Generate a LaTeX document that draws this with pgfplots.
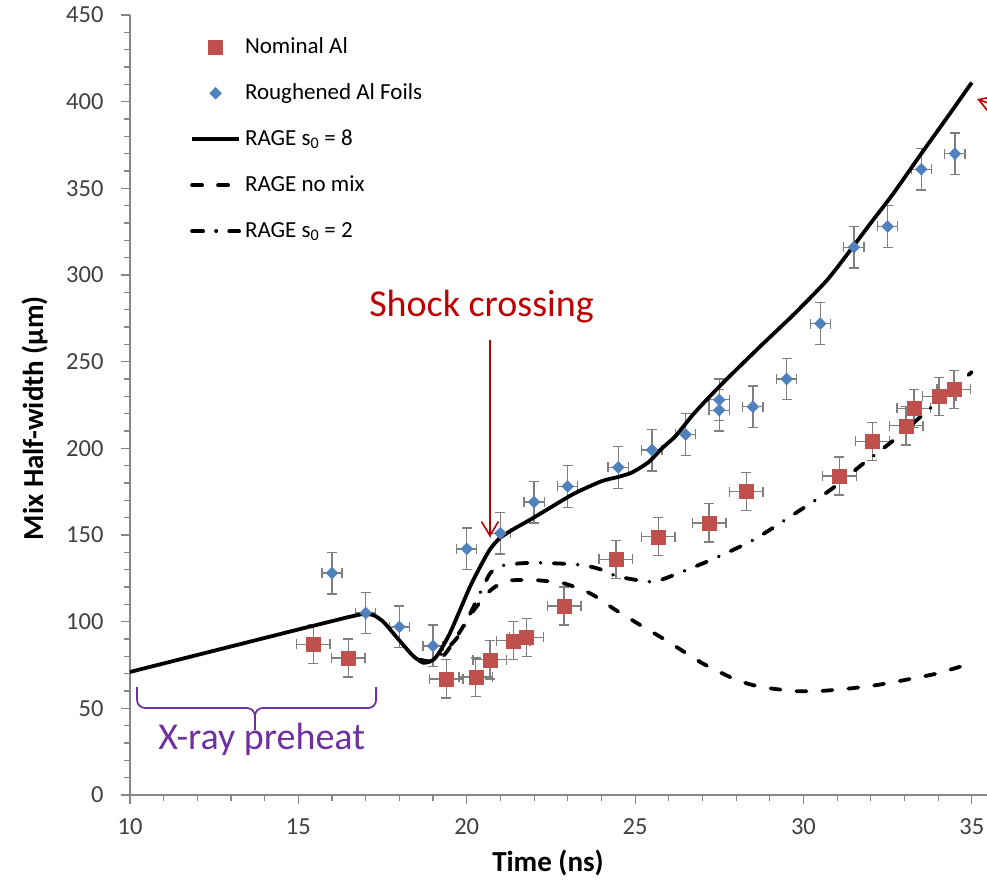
\documentclass[border=0pt]{standalone}
\usepackage{fontspec}
\setmainfont{Carlito}
\usepackage{pgfplots}
\pgfplotsset{compat=1.18}
\usetikzlibrary{arrows.meta}

\definecolor{nomred}{HTML}{C0504D}
\definecolor{roughblue}{HTML}{4F81BD}
\definecolor{errgray}{HTML}{7F7F7F}
\definecolor{axgray}{HTML}{868686}
\definecolor{ticktext}{HTML}{404040}
\definecolor{shockred}{HTML}{C00000}
\definecolor{heatpurple}{HTML}{7030A0}

\begin{document}
\begin{tikzpicture}
\begin{axis}[
    scale only axis,
    width=858.6bp, height=780bp,
    xmin=10, xmax=35.5, ymin=0, ymax=450,
    clip=false,
    axis x line=bottom, axis y line=left,
    axis line style={-, axgray, line width=1.3bp},
    xtick={10,15,...,35}, ytick={0,50,...,450},
    minor x tick num=4, minor y tick num=4,
    tick align=outside,
    major tick length=9bp, minor tick length=6bp,
    every tick/.style={axgray, line width=1.1bp},
    tick label style={font=\fontsize{24.5bp}{26bp}\selectfont, ticktext},
    xticklabel style={yshift=-11bp},
    yticklabel style={xshift=-14bp},
    /pgf/number format/assume math mode=true,
    xlabel={\textbf{Time (ns)}},
    ylabel={\textbf{Mix Half-width (μm)}},
    every axis x label/.style={at={(axis description cs:0.4868,-0.0987)}, anchor=base, font=\fontsize{29bp}{31bp}\selectfont},
    every axis y label/.style={at={(axis description cs:-0.1013,0.483)}, anchor=base, rotate=90, font=\fontsize{29bp}{31bp}\selectfont},
    legend style={draw=none, fill=none, at={(axis description cs:0.0699,0.973)}, anchor=north west,
        inner sep=0pt, row sep=24bp, column sep=4bp,
        font=\fontsize{23bp}{25bp}\selectfont,
        nodes={inner sep=0pt, text height=17bp, text depth=5bp}},
    legend cell align=left,
    legend image code/.code={\path (0bp,0bp) (47bp,0bp);
        \draw[mark repeat=2,mark phase=2,#1] plot coordinates {(0bp,0bp) (23.5bp,0bp) (47bp,0bp)};},
]

% Nominal Al
\addplot[only marks, mark=square*, mark size=7bp, color=nomred,
    error bars/.cd, x dir=both, x fixed=0.5, y dir=both, y fixed=11,
    error bar style={errgray, line width=1.3bp},
    error mark options={rotate=90, errgray, mark size=5bp, line width=1.3bp}]
coordinates {
(15.44,87) (16.48,79) (19.39,67) (20.27,68) (20.69,78) (21.38,89)
(21.78,91) (22.89,109) (24.43,136) (25.69,149) (27.20,157) (28.30,175)
(31.07,184) (32.05,204) (33.05,213) (33.28,223) (34.03,230) (34.47,234)
};
\addlegendentry{Nominal Al}

% Roughened Al foils
\addplot[only marks, mark=square*, mark size=4.2bp, mark options={rotate=45}, color=roughblue,
    error bars/.cd, x dir=both, x fixed=0.3, y dir=both, y fixed=12,
    error bar style={errgray, line width=1.3bp},
    error mark options={rotate=90, errgray, mark size=5bp, line width=1.3bp}]
coordinates {
(16.0,128) (17.0,105) (18.0,97) (19.0,86) (20.0,142) (21.0,151)
(22.0,169) (23.0,178) (24.5,189) (25.5,199) (26.5,208) (27.5,228)
(27.5,222) (28.5,224) (29.5,240) (30.5,272) (31.5,316) (32.5,328)
(33.5,361) (34.5,370)
};
\addlegendentry{Roughened Al Foils}

% RAGE s0 = 8
\addplot[black, line width=3.8bp, smooth, tension=0.4] coordinates {
(10,71) (12,80.8) (14,90.6) (15,95.5) (16,100.3) (16.5,102.7) (16.9,104.3)
(17.23,103.8) (17.52,100) (17.82,93.3) (18.12,86.5) (18.41,80.2) (18.71,76.3)
(19.0,77.9) (19.2,82.7) (19.5,93.3) (19.8,106.7) (20.1,120.2) (20.4,131.7)
(20.7,142) (21.0,148.5) (21.4,153.5) (21.9,159) (22.5,166) (23.2,174)
(24.0,181) (24.5,183.5) (24.9,186) (25.4,192) (25.8,200) (26.2,207)
(26.7,219) (27.1,227.5) (27.7,239.5) (28.7,258.5) (29.7,277) (30.7,297)
(31.46,316) (32.0,330) (32.67,347) (33.5,370) (34.2,389) (35,411)
};
\addlegendentry{RAGE s\textsubscript{0} = 8}

% RAGE no mix
\addplot[black, line width=3.8bp, smooth, tension=0.4, line cap=round,
    dash pattern=on 10bp off 16bp] coordinates {
(18.6,78) (18.9,77) (19.1,78.5) (19.3,80) (19.6,88) (20.15,105) (20.7,118)
(21.2,123.5) (22.0,124) (22.9,122) (23.7,116) (24.4,107) (25.2,97.5)
(25.9,89.5) (27.0,76) (28.0,66.5) (28.7,62.5) (29.7,60) (30.5,60)
(31.4,61.5) (32.2,63.5) (33.0,66.3) (33.9,69.8) (34.65,74) (35,76)
};
\addlegendentry{RAGE no mix}

% RAGE s0 = 2
\addplot[black, line width=3.8bp, smooth, tension=0.4, line cap=round,
    dash pattern=on 11bp off 13bp on 0.1bp off 13bp] coordinates {
(18.6,78) (18.9,77) (19.1,79) (19.4,84) (19.8,93) (20.3,112.5) (20.7,128)
(21.1,132.5) (21.9,134) (22.8,133.5) (23.5,132.5) (24.0,130) (24.5,126)
(25.5,123) (26.1,126.5) (27.3,136) (28.5,147) (29.6,160.5) (30.8,176)
(31.7,190) (32.7,205) (33.7,222) (34.3,232) (35,244)
};
\addlegendentry{RAGE s\textsubscript{0} = 2}

% annotations
\node[anchor=base, text=shockred, font=\fontsize{38bp}{40bp}\selectfont]
    at (axis cs:20.44,276.3) {Shock crossing};
\draw[shockred, line width=1.6bp, -{Straight Barb[length=14bp, width=17bp, line width=1.6bp]}]
    (axis cs:20.69,262.5) -- (axis cs:20.69,148.8);
\draw[shockred, line width=1.6bp, -{Straight Barb[length=14bp, width=17bp, line width=1.6bp]}]
    (axis cs:36.14,394.6) -- (axis cs:35.16,401.5);

\draw[heatpurple, line width=1.8bp, rounded corners=8bp]
    (axis cs:10.21,62.3) -- (axis cs:10.21,50.2) -- (axis cs:13.71,50.2) -- (axis cs:13.71,37.5);
\draw[heatpurple, line width=1.8bp, rounded corners=8bp]
    (axis cs:17.31,62.3) -- (axis cs:17.31,50.2) -- (axis cs:13.71,50.2) -- (axis cs:13.71,37.5);
\node[anchor=base, text=heatpurple, font=\fontsize{38bp}{40bp}\selectfont]
    at (axis cs:13.91,26) {X-ray preheat};
\end{axis}
\pgfresetboundingbox
\useasboundingbox (current axis.south west) ++(-130bp,-87bp) rectangle ++(987bp,882bp);
\end{tikzpicture}
\end{document}
